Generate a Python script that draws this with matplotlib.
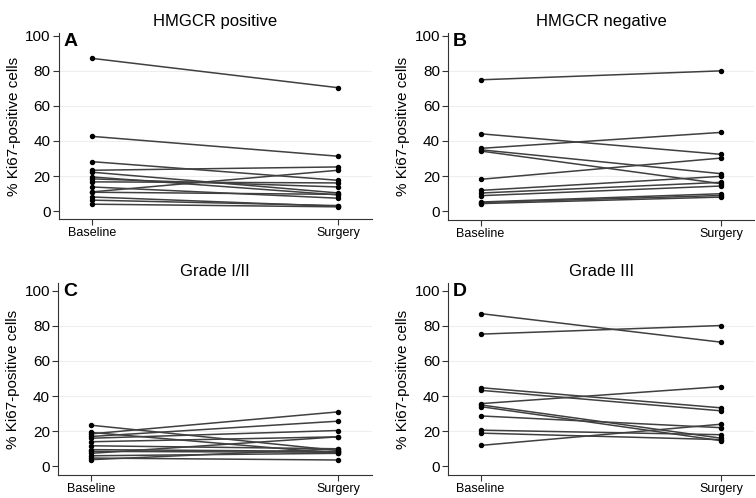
import matplotlib
matplotlib.use('Agg')
import matplotlib.pyplot as plt

plt.rcParams['font.family'] = ['Liberation Sans', 'DejaVu Sans']

timepoints = ['Baseline', 'Surgery']

# panel A: HMGCR positive (baseline, surgery)
hmgcr_pos_base = [87.0, 42.6, 28.2, 23.3, 22.2, 19.5, 18.4, 16.7, 11.0, 13.8, 10.8, 8.1, 6.3, 4.0]
hmgcr_pos_surg = [70.3, 31.3, 17.6, 25.2, 10.4, 9.3, 13.8, 16.1, 23.3, 7.4, 9.6, 2.8, 3.2, 2.5]

# panel B: HMGCR negative
hmgcr_neg_base = [74.8, 44.1, 35.8, 35.0, 34.3, 18.2, 11.9, 10.4, 8.9, 5.3, 5.0, 4.4]
hmgcr_neg_surg = [79.9, 32.4, 44.9, 21.4, 15.7, 30.3, 19.9, 16.5, 14.4, 10.0, 9.0, 8.1]

# panel C: Grade I/II
grade12_base = [23.4, 18.5, 17.0, 16.0, 14.0, 11.7, 9.5, 7.4, 6.0, 4.7, 3.8, 19.3, 8.5]
grade12_surg = [9.0, 31.0, 25.7, 20.4, 16.8, 10.0, 8.5, 16.8, 7.4, 3.6, 10.0, 7.4, 8.0]

# panel D: Grade III
grade3_base = [87.0, 75.3, 44.8, 43.3, 35.7, 35.0, 34.0, 28.7, 20.6, 18.9, 11.9]
grade3_surg = [70.7, 80.2, 33.3, 31.6, 45.4, 16.0, 14.6, 22.0, 18.0, 15.2, 24.0]

panels = [
    ('HMGCR positive', 'A', hmgcr_pos_base, hmgcr_pos_surg, [0.078, 0.560, 0.414, 0.374], (-4.5, 101.5)),
    ('HMGCR negative', 'B', hmgcr_neg_base, hmgcr_neg_surg, [0.593, 0.558, 0.405, 0.376], (-5.0, 101.5)),
    ('Grade I/II', 'C', grade12_base, grade12_surg, [0.077, 0.046, 0.415, 0.386], (-5.0, 104.5)),
    ('Grade III', 'D', grade3_base, grade3_surg, [0.593, 0.046, 0.405, 0.386], (-5.0, 104.5)),
]

fig = plt.figure(figsize=(7.56, 4.98), dpi=100)

for title, letter, base, surg, rect, ylim in panels:
    ax = fig.add_axes(rect)
    for b, s in zip(base, surg):
        ax.plot([0, 1], [b, s], color='#404040', lw=1.1, marker='o', ms=2.9,
                mfc='black', mec='black', zorder=3)
    ax.set_xlim(-0.134, 1.138)
    ax.set_ylim(*ylim)
    ax.set_yticks([0, 20, 40, 60, 80, 100])
    ax.set_xticks([0, 1])
    ax.set_xticklabels(timepoints, fontsize=9)
    ax.tick_params(axis='y', labelsize=11, length=4, color='#333333', pad=2)
    ax.tick_params(axis='x', length=4, color='#333333', pad=2)
    for yv in [20, 40, 60, 80]:
        ax.axhline(yv, color='#eeeeee', lw=0.8, zorder=0)
    ax.spines['top'].set_visible(False)
    ax.spines['right'].set_visible(False)
    ax.spines['left'].set_color('#333333')
    ax.spines['bottom'].set_color('#333333')
    ax.set_ylabel('% Ki67-positive cells', fontsize=11, labelpad=3)
    ax.set_title(title, fontsize=12, pad=5)
    ax.text(0.015, 1.0, letter, transform=ax.transAxes, fontsize=14,
            fontweight='bold', va='top', ha='left')

plt.savefig('out.png', dpi=100)
